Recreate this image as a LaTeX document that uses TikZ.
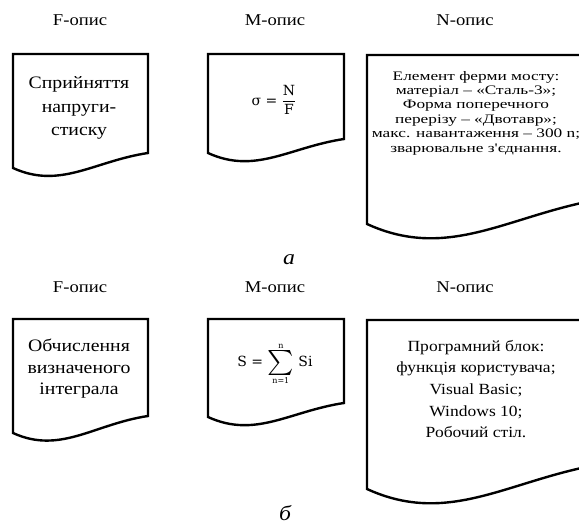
\documentclass[tikz,border=0pt]{standalone}
\usepackage{graphicx}
\usepackage{fontspec}
\setmainfont{Liberation Serif}[FakeStretch=1.13]
\newfontfamily\widefont{Liberation Serif}[FakeStretch=1.33]
\newfontfamily\formfont{DejaVu Serif}

% sheet with a wavy lower edge: left, top, right, lower right, lower left
\newcommand{\docpage}[5]{%
	\pgfmathsetmacro{\dw}{#3-#1}%
	\draw[pageline] (#1,#5) -- (#1,#2) -- (#3,#2) -- (#3,#4)
		.. controls +(-0.4*\dw,0.06*\dw) and +(0.35*\dw,0.16*\dw) .. (#1,#5) -- cycle;
}
\newcommand{\bigsum}{\vcenter{\hbox{\scalebox{2.5}{$\sum$}}}}
\newcommand{\limtext}[1]{\hbox{\formfont\fontsize{8}{8}\selectfont #1}}

\tikzset{
	pageline/.style={line width=2.4pt, line join=miter},
	heading/.style={font=\fontsize{16.5}{18}\selectfont},
	bodytext/.style={align=center, font=\fontsize{17.5}{23.5}\selectfont},
	smalltext/.style={align=center, font=\widefont\fontsize{13}{14.4}\selectfont},
	listtext/.style={align=center, font=\fontsize{15.5}{21.7}\selectfont},
	formula/.style={font=\formfont\fontsize{14}{16}\selectfont},
	caption/.style={anchor=base, font=\itshape\fontsize{21}{24}\selectfont}
}

\begin{document}
\begin{tikzpicture}[x=1pt,y=-1pt]
		\useasboundingbox (0,0) rectangle (579,526);
		\clip (0,0) rectangle (579,526);
		
		% upper row
		\node[heading] (fhead1) at (80,20) {F-опис};
		\node[heading] (mhead1) at (275,20) {M-опис};
		\node[heading] (nhead1) at (465,20) {N-опис};
		\docpage{13}{54}{148}{153}{168}
		\docpage{208}{54}{344}{139}{153}
		\docpage{367}{55}{608}{198}{224}
		\node[bodytext] (ftext1) at (79,108) {Сприйняття\\напруги-\\стиску};
		\node[formula] (mtext1) at (274,100) {σ = $\displaystyle{\hbox{N}\over\hbox{F}}$};
		\node[smalltext] (ntext1) at (476,113) {Елемент ферми мосту:\\матеріал – «Сталь-3»;\\Форма поперечного\\перерізу – «Двотавр»;\\макс. навантаження – 300 n;\\зварювальне з'єднання.};
		\node[caption] (capa) at (289,265) {а};
		
		% lower row
		\node[heading] (fhead2) at (80,287) {F-опис};
		\node[heading] (mhead2) at (275,287) {M-опис};
		\node[heading] (nhead2) at (465,287) {N-опис};
		\docpage{13}{319}{148}{416}{433}
		\docpage{208}{319}{344}{403}{417}
		\docpage{367}{320}{608}{463}{489}
		\node[bodytext,font=\fontsize{17.5}{21.5}\selectfont] (ftext2) at (79,369) {Обчислення\\визначеного\\інтеграла};
		\node[formula] (mtext2) at (275,364) {S = $\mathop{\bigsum}\limits_{\limtext{n=1}}^{\limtext{n}}$ Si};
		\node[listtext] (ntext2) at (476,389) {Програмний блок:\\функція користувача;\\Visual Basic;\\Windows 10;\\Робочий стіл.};
		\node[caption] (capb) at (285,521) {б};
		
		\end{tikzpicture}
\end{document}
